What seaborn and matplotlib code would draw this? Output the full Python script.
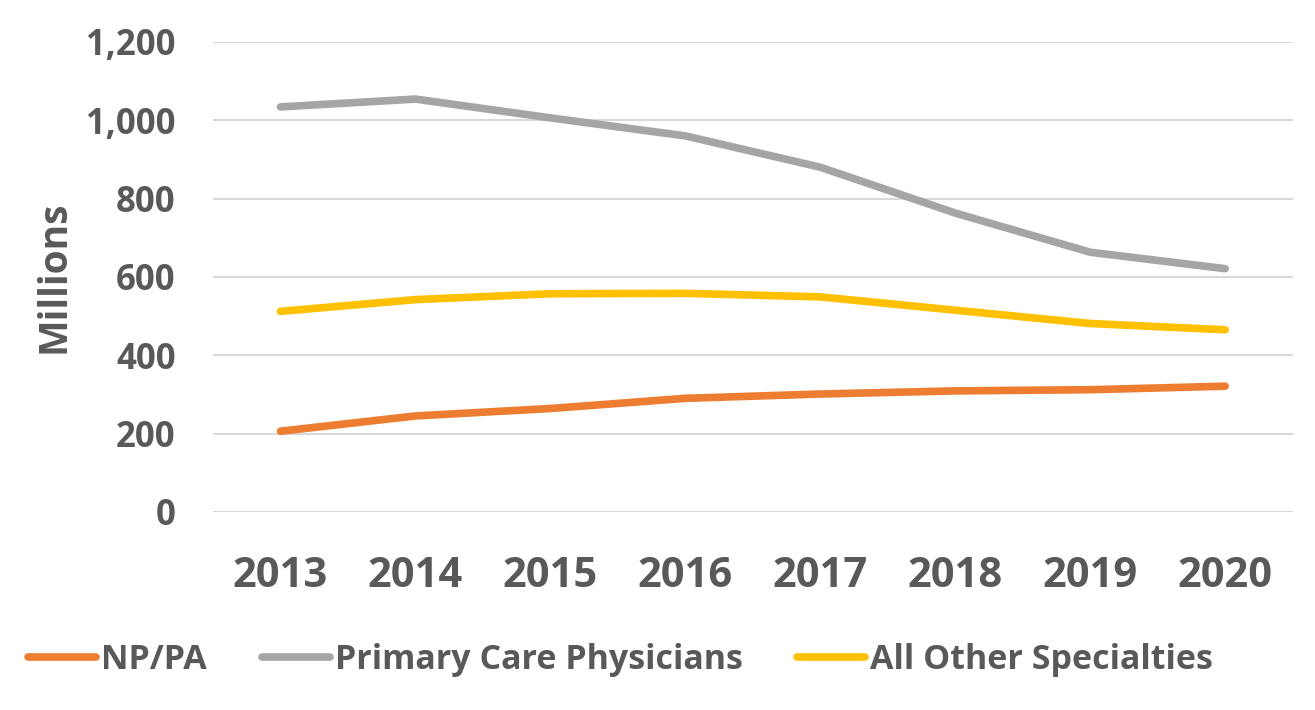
import numpy as np
import pandas as pd
import matplotlib
matplotlib.use("Agg")
import matplotlib.pyplot as plt
import seaborn as sns

years = ["2013", "2014", "2015", "2016", "2017", "2018", "2019", "2020"]
np_pa = [206, 245, 264, 290, 301, 309, 312, 321]
primary_care = [1034, 1054, 1006, 960, 880, 763, 663, 621]
other_specialties = [512, 542, 557, 558, 549, 515, 481, 465]

series_names = ["NP/PA", "Primary Care Physicians", "All Other Specialties"]
colors = ["#ED7D31", "#A5A5A5", "#FFC000"]

df = pd.DataFrame({
    "year": years * 3,
    "value": np_pa + primary_care + other_specialties,
    "series": [s for s in series_names for _ in years],
})

sns.set_style("white")
plt.rcParams["font.family"] = ["Open Sans", "DejaVu Sans"]
plt.rcParams["font.weight"] = "bold"

text_color = "#595959"

fig = plt.figure(figsize=(13.15, 7.10), dpi=100)
ax = fig.add_axes([0.162, 0.279, 0.821, 0.662])

sns.lineplot(
    data=df, x="year", y="value", hue="series", hue_order=series_names,
    palette=colors, linewidth=5.5, ax=ax, sort=False, legend=True,
)
for line in ax.get_lines():
    line.set_solid_capstyle("round")

ax.set_xlim(-0.5, len(years) - 0.5)
ax.set_ylim(0, 1200)
ax.set_yticks(np.arange(0, 1201, 200))
ax.yaxis.set_major_formatter(matplotlib.ticker.StrMethodFormatter("{x:,.0f}"))
ax.grid(axis="y", color="#D9D9D9", linewidth=1.5)
ax.set_axisbelow(True)
for s in ax.spines.values():
    s.set_visible(False)

ax.tick_params(axis="x", labelsize=30, colors=text_color, length=0, pad=32)
ax.tick_params(axis="y", labelsize=25, colors=text_color, length=0, pad=27)
for lab in ax.get_xticklabels() + ax.get_yticklabels():
    lab.set_fontweight("bold")

ax.set_xlabel("")
ax.set_ylabel("Millions", fontsize=28, fontweight="bold", color=text_color, labelpad=9)

handles, labels = ax.get_legend_handles_labels()
ax.legend_.remove()
leg = fig.legend(
    handles, labels, loc="center", bbox_to_anchor=(0.472, 0.07), ncol=3,
    frameon=False, fontsize=24.5, handlelength=2.0, handletextpad=0.15,
    columnspacing=1.6,
)
for t in leg.get_texts():
    t.set_color(text_color)
    t.set_fontweight("bold")
for h in leg.get_lines():
    h.set_linewidth(5.5)

fig.savefig("out.png", dpi=100)
